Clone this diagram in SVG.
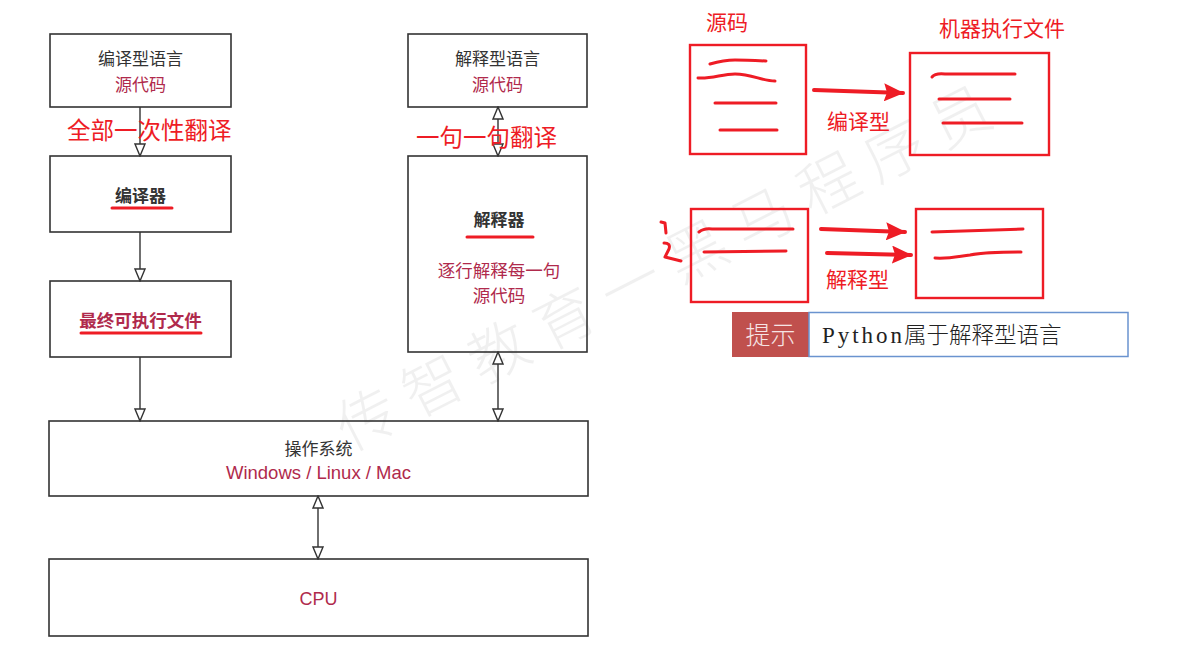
<svg xmlns="http://www.w3.org/2000/svg" width="1204" height="648" viewBox="0 0 1204 648">
  <style>
    .box { fill: none; stroke: #333; stroke-width: 1.6; }
    .conn { stroke: #333; stroke-width: 1.4; fill: none; }
    .cn { font-family: "Noto Sans CJK SC", sans-serif; text-anchor: middle; }
    .dark { fill: #333; font-size: 17px; }
    .bold { font-weight: 700; }
    .crim { fill: #b02a4c; }
    .lat { font-family: "Liberation Sans", "Noto Sans CJK SC", sans-serif; text-anchor: middle; }
    .note { fill: #ee1c25; font-family: "Noto Sans CJK SC", sans-serif; }
    .ink { stroke: #ee1c25; stroke-width: 3; fill: none; stroke-linecap: round; stroke-linejoin: round; }
    .sheet { stroke: #ee1c25; stroke-width: 2.4; fill: none; }
    .redarrow { stroke: #ee1c25; stroke-width: 4; fill: none; stroke-linecap: round; }
  </style>
  <defs>
    <marker id="open" viewBox="-1 -1 14 12" refX="12" refY="5" markerWidth="14" markerHeight="12" markerUnits="userSpaceOnUse" orient="auto-start-reverse">
      <path d="M0,0 L12,5 L0,10 z" fill="#fff" stroke="#333" stroke-width="1.4"/>
    </marker>
    <marker id="solid" viewBox="0 0 20 18" refX="19" refY="9" markerWidth="20" markerHeight="18" markerUnits="userSpaceOnUse" orient="auto">
      <path d="M0,0 L20,9 L0,18 L3,9 z" fill="#ee1c25"/>
    </marker>
  </defs>

  <rect width="1204" height="648" fill="#fff"/>

  <!-- watermark -->
  <text transform="translate(350,452) rotate(-27)" font-family="Noto Sans CJK SC, sans-serif" font-weight="300" font-size="60" letter-spacing="14" fill="#000" opacity="0.055">传智教育一黑马程序员</text>

  <!-- left: compile / interpret flow -->
  <g id="src-compiled">
    <rect class="box" x="50" y="34" width="181" height="73"/>
    <text class="cn dark" x="140.5" y="65">编译型语言</text>
    <text class="cn crim" font-size="17" x="140.5" y="91">源代码</text>
  </g>
  <g id="compiler">
    <rect class="box" x="50" y="156" width="181" height="76"/>
    <text class="cn dark bold" x="140.5" y="202">编译器</text>
    <line class="ink" x1="112" y1="208" x2="172" y2="208"/>
  </g>
  <g id="executable">
    <rect class="box" x="50" y="281" width="181" height="76"/>
    <text class="cn crim bold" font-size="17.5" x="140.5" y="327">最终可执行文件</text>
    <line class="ink" x1="81" y1="333" x2="201" y2="333"/>
  </g>
  <g id="src-interpreted">
    <rect class="box" x="408" y="34" width="179" height="73"/>
    <text class="cn dark" x="497.5" y="65">解释型语言</text>
    <text class="cn crim" font-size="17" x="497.5" y="91">源代码</text>
  </g>
  <g id="interpreter">
    <rect class="box" x="408" y="156" width="179" height="196"/>
    <text class="cn dark bold" x="499" y="226">解释器</text>
    <line class="ink" x1="467" y1="237" x2="533" y2="237"/>
    <text class="cn crim" font-size="17.5" x="499" y="277">逐行解释每一句</text>
    <text class="cn crim" font-size="17.5" x="499" y="302">源代码</text>
  </g>
  <g id="os">
    <rect class="box" x="49" y="421" width="539" height="75"/>
    <text class="cn dark" x="318.5" y="455">操作系统</text>
    <text class="lat crim" font-size="18.5" x="318.5" y="479">Windows / Linux / Mac</text>
  </g>
  <g id="cpu">
    <rect class="box" x="49" y="559" width="539" height="77"/>
    <text class="lat crim" font-size="18" x="318.5" y="605">CPU</text>
  </g>

  <g id="connectors">
    <line class="conn" x1="140" y1="107" x2="140" y2="156" marker-end="url(#open)"/>
    <line class="conn" x1="140" y1="232" x2="140" y2="281" marker-end="url(#open)"/>
    <line class="conn" x1="140" y1="357" x2="140" y2="421" marker-end="url(#open)"/>
    <line class="conn" x1="498" y1="107" x2="498" y2="156" marker-start="url(#open)" marker-end="url(#open)"/>
    <line class="conn" x1="498" y1="352" x2="498" y2="421" marker-start="url(#open)" marker-end="url(#open)"/>
    <line class="conn" x1="318" y1="496" x2="318" y2="559" marker-start="url(#open)" marker-end="url(#open)"/>
  </g>

  <!-- handwritten notes over the connectors -->
  <g id="note-compile">
    <text class="note" font-size="23.5" x="67" y="139">全部一次性翻译</text>
  </g>
  <g id="note-interpret">
    <text class="note" font-size="23.5" x="416" y="146">一句一句翻译</text>
  </g>

  <!-- right: compiled sketch -->
  <g id="sketch-source">
    <text class="note" font-size="21" x="706" y="30">源码</text>
    <rect class="sheet" x="690" y="45" width="116" height="109"/>
    <path class="ink" d="M710,64 Q724,60 735,60 T766,61"/>
    <path class="ink" d="M698,78 C712,79 722,74 735,74 C752,74 762,81 775,81"/>
    <line class="ink" x1="715" y1="103" x2="776" y2="103"/>
    <line class="ink" x1="720" y1="130" x2="777" y2="130"/>
  </g>
  <g id="sketch-binary">
    <text class="note" font-size="21" x="939" y="36">机器执行文件</text>
    <rect class="sheet" x="910" y="53" width="139" height="102"/>
    <path class="ink" d="M932,77 Q935,73 945,74 L1015,74"/>
    <line class="ink" x1="939" y1="99" x2="1010" y2="99"/>
    <line class="ink" x1="943" y1="123" x2="1022" y2="123"/>
  </g>
  <g id="sketch-compile-arrow">
    <line class="redarrow" x1="814" y1="90" x2="903" y2="93" marker-end="url(#solid)"/>
    <text class="note" font-size="21" x="827" y="129">编译型</text>
  </g>

  <!-- right: interpreted sketch -->
  <g id="sketch-lines">
    <path class="ink" stroke-width="2.6" d="M661,222 L665,223 L666,233"/>
    <path class="ink" stroke-width="2.6" d="M664,243 Q671,243 669,249 L665,257 L681,261"/>
    <rect class="sheet" x="691" y="209" width="117" height="93"/>
    <path class="ink" d="M699,232 Q704,228 712,229 L793,229"/>
    <line class="ink" x1="704" y1="252" x2="786" y2="251"/>
  </g>
  <g id="sketch-run">
    <rect class="sheet" x="916" y="209" width="127" height="89"/>
    <line class="ink" x1="932" y1="232" x2="1023" y2="229"/>
    <path class="ink" d="M935,258 C950,259 960,256 970,255 C985,252 1000,252 1021,252"/>
  </g>
  <g id="sketch-interpret-arrows">
    <line class="redarrow" x1="821" y1="229" x2="905" y2="232" marker-end="url(#solid)"/>
    <line class="redarrow" x1="827" y1="253" x2="911" y2="255" marker-end="url(#solid)"/>
    <text class="note" font-size="21" x="826" y="287">解释型</text>
  </g>

  <!-- tip banner -->
  <g id="tip">
    <rect x="732" y="312" width="77" height="45" fill="#c0504d"/>
    <rect x="809" y="312.5" width="319" height="44" fill="#fff" stroke="#6a93cf" stroke-width="1.5"/>
    <text x="770.5" y="344" font-family="Noto Sans CJK SC, sans-serif" font-weight="300" font-size="25" fill="#f6e4e4" text-anchor="middle">提示</text>
    <text x="822" y="343" font-family="Liberation Serif, serif" font-size="23" fill="#222" textLength="80" lengthAdjust="spacing">Python</text>
    <text x="904" y="343" font-family="Noto Sans CJK SC, sans-serif" font-weight="300" font-size="22.5" fill="#222">属于解释型语言</text>
  </g>
</svg>
